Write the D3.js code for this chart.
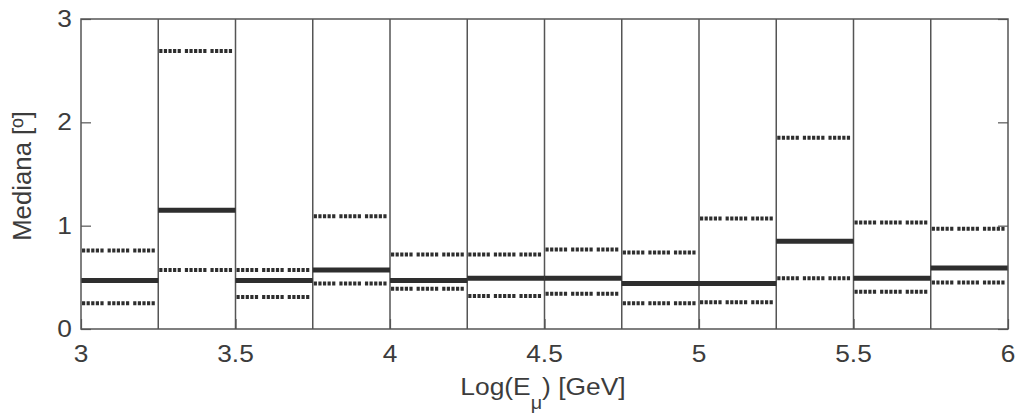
<!DOCTYPE html>
<html><head><meta charset="utf-8">
<script src="https://cdn.jsdelivr.net/npm/d3@7"></script>
<style>
body{margin:0;background:#fff;}
text{font-family:"Liberation Sans",Arial,Helvetica,sans-serif;fill:#3c3c3c;}
</style></head>
<body><svg id="c" width="1023" height="416"></svg>
<script>
// bins of Log(E_mu) [GeV]
const binLo = [3, 3.25, 3.5, 3.75, 4, 4.25, 4.5, 4.75, 5, 5.25, 5.5, 5.75];
const binHi = [3.25, 3.5, 3.75, 4, 4.25, 4.5, 4.75, 5, 5.25, 5.5, 5.75, 6];
const median = [0.47, 1.15, 0.47, 0.57, 0.47, 0.49, 0.49, 0.44, 0.44, 0.85, 0.49, 0.59];
const upper  = [0.76, 2.69, 0.57, 1.09, 0.72, 0.72, 0.77, 0.74, 1.07, 1.85, 1.03, 0.97];
const lower  = [0.25, 0.57, 0.31, 0.44, 0.39, 0.32, 0.34, 0.25, 0.26, 0.49, 0.36, 0.45];
const xTicks = [3, 3.5, 4, 4.5, 5, 5.5, 6];
const yTicks = [0, 1, 2, 3];

const svg = d3.select("#c");
const L = 81, R = 1008, T = 19, B = 329;
const x = d3.scaleLinear().domain([3, 6]).range([L, R]);
const y = d3.scaleLinear().domain([0, 3]).range([B, T]);
const axisCol = "#555";
const dark = "#2e2e2e";

// bin separators
svg.append("g").selectAll("line").data(binHi.slice(0, -1)).join("line")
  .attr("x1", d => x(d)).attr("x2", d => x(d)).attr("y1", T).attr("y2", B)
  .attr("stroke", axisCol).attr("stroke-width", 1.5);

// dashed quantile lines
const dash = "3.2,1.4,3.2,1.4,3.2,1.4,3.2,1.4,3.2,4";
function dashed(vals) {
  svg.append("g").selectAll("line").data(vals).join("line")
    .attr("x1", (d, i) => x(binLo[i]) + 1).attr("x2", (d, i) => x(binHi[i]) - 3)
    .attr("y1", d => y(d)).attr("y2", d => y(d))
    .attr("stroke", dark).attr("stroke-width", 4).attr("stroke-dasharray", dash);
}
dashed(upper);
dashed(lower);

// median
svg.append("g").selectAll("line").data(median).join("line")
  .attr("x1", (d, i) => x(binLo[i])).attr("x2", (d, i) => x(binHi[i]))
  .attr("y1", d => y(d)).attr("y2", d => y(d))
  .attr("stroke", dark).attr("stroke-width", 5);

// axes (inward ticks, MATLAB box)
const fs = 23.5;
const gx = svg.append("g").attr("transform", `translate(0,${B})`)
  .call(d3.axisTop(x).tickValues(xTicks).tickSize(10).tickFormat(""));
const gy = svg.append("g").attr("transform", `translate(${L},0)`)
  .call(d3.axisRight(y).tickValues(yTicks).tickSize(10).tickFormat(""));
const gyr = svg.append("g").attr("transform", `translate(${R},0)`)
  .call(d3.axisLeft(y).tickValues(yTicks).tickSize(10).tickFormat(""));
[gx, gy, gyr].forEach(g => {
  g.select(".domain").remove();
  g.selectAll("line").attr("stroke", axisCol).attr("stroke-width", 1.2);
});
svg.append("rect").attr("x", L).attr("y", T).attr("width", R - L).attr("height", B - T)
  .attr("fill", "none").attr("stroke", axisCol).attr("stroke-width", 1.5);

// tick labels
svg.append("g").selectAll("text").data(xTicks).join("text")
  .attr("transform", d => `translate(${x(d)},362) scale(1.12,1)`)
  .attr("text-anchor", "middle").attr("font-size", fs).text(d => d3.format("~g")(d));
svg.append("g").selectAll("text").data(yTicks).join("text")
  .attr("transform", d => `translate(72,${y(d) + 8}) scale(1.12,1)`)
  .attr("text-anchor", "end").attr("font-size", fs).text(d => d);

// axis titles
const xl = svg.append("text").attr("transform", "translate(543,395) scale(1.1,1)")
  .attr("text-anchor", "middle").attr("font-size", 24);
xl.append("tspan").text("Log(E");
xl.append("tspan").attr("dy", 14).attr("font-size", 18).text("\u03bc");
xl.append("tspan").attr("dy", -14).text(") [GeV]");

svg.append("text").attr("transform", "translate(31,176) rotate(-90) scale(1.12,1.12)")
  .attr("text-anchor", "middle").attr("font-size", 23).text("Mediana [º]");
</script></body></html>
